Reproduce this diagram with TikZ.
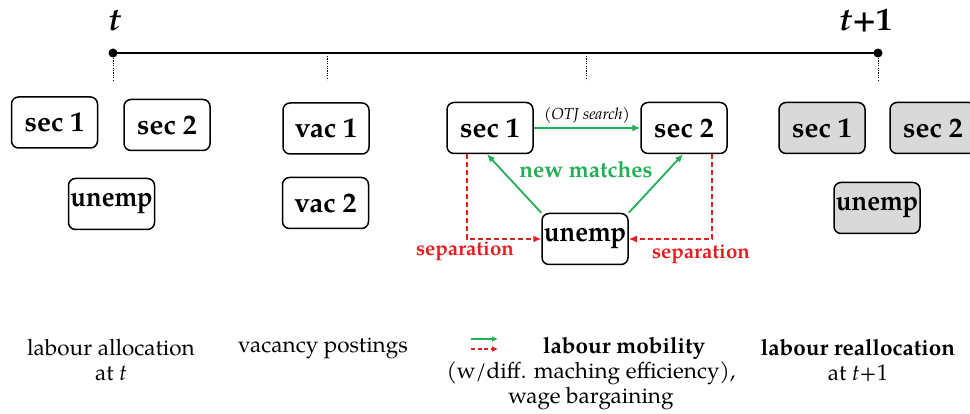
\documentclass[tikz,border=0pt]{standalone}
\usepackage{fontspec}
\usepackage{graphicx}
\setmainfont{TeX Gyre Pagella}
\usetikzlibrary{arrows.meta,calc}
\definecolor{mgreen}{RGB}{35,175,85}
\definecolor{mred}{RGB}{228,30,30}
\definecolor{mgray}{RGB}{217,217,217}
\newcommand{\unempt}{\scalebox{0.92}[1]{unemp}}
\tikzset{
  box/.style={draw=black, line width=1.5pt, rounded corners=7pt, minimum width=86pt, minimum height=51pt, inner sep=0pt, font=\fontsize{28}{29}\selectfont\bfseries},
  gbox/.style={box, fill=mgray},
  garr/.style={draw=mgreen, line width=1.8pt, -{Latex[length=8pt,width=7pt]}},
  rarr/.style={draw=mred, line width=1.5pt, dash pattern=on 5pt off 3pt, -{Latex[length=8pt,width=7pt]}},
  tick/.style={line width=1pt, dash pattern=on 1.2pt off 1.2pt},
  body/.style={align=center, font=\fontsize{22.5}{25}\selectfont},
}
\begin{document}
\begin{tikzpicture}[x=1pt,y=-1pt]
\useasboundingbox (0,0) rectangle (970,414);
% timeline
\coordinate (tl) at (113,53);
\coordinate (tr) at (878,53);
\coordinate (m1) at (327,53);
\coordinate (m2) at (586,53);
\draw[line width=1.5pt] (tl) -- (tr);
\fill (tl) circle (4.5pt);
\fill (tr) circle (4.5pt);
\node[font=\fontsize{32}{34}\selectfont\bfseries\itshape] (tlab) at (115,21) {t};
\node[font=\fontsize{32}{34}\selectfont\bfseries] (trlab) at (866,21) {\textit{t}+1};
\draw[tick] ([yshift=-5pt]tl) -- ([yshift=-27pt]tl);
\draw[tick] ([yshift=-3pt]m1) -- ([yshift=-27pt]m1);
\draw[tick] ([yshift=-3pt]m2) -- ([yshift=-27pt]m2);
\draw[tick] ([yshift=-5pt]tr) -- ([yshift=-27pt]tr);
% left group
\node[box] (lsec1) at (54.5,122.5) {sec 1};
\node[box] (lsec2) at (167,125) {sec 2};
\node[box] (lunemp) at (111.5,204) {\unempt};
% vacancies
\node[box] (vac1) at (326,128.5) {vac 1};
\node[box] (vac2) at (325.5,203) {vac 2};
% middle group
\node[box] (msec1) at (490,128) {sec 1};
\node[box] (msec2) at (684,128) {sec 2};
\node[box] (munemp) at (585,239) {\unempt};
\draw[garr] (msec1.east) -- node[above=0pt, font=\fontsize{16}{18}\selectfont\itshape, text=black] {(OTJ search)} (msec2.west);
\draw[garr] (munemp.north west) -- ([xshift=-3pt]msec1.south);
\draw[garr] (munemp.north east) -- ([xshift=-1pt]msec2.south);
\node[font=\fontsize{22.5}{24}\selectfont\bfseries, text=mgreen] (nm) at (586,170) {new matches};
\draw[rarr] ([xshift=-23pt]msec1.south) |- (munemp.west);
\draw[rarr] ([xshift=28pt]msec2.south) |- (munemp.east);
\node[font=\fontsize{20.5}{22}\selectfont\bfseries, text=mred] (sepl) at (465,251) {separation};
\node[font=\fontsize{20.5}{22}\selectfont\bfseries, text=mred] (sepr) at (701,254) {separation};
% right group
\node[gbox] (rsec1) at (822,128) {sec 1};
\node[gbox] (rsec2) at (933,128) {sec 2};
\node[gbox] (runemp) at (877,208) {\unempt};
% bottom captions
\node[body] (c1) at (111,360) {labour allocation\\at \textit{t}};
\node[body] (c2) at (323,348) {vacancy postings};
\node[body] (c3) at (591,373) {\phantom{(}\hspace{56pt}\textbf{labour mobility}\\(w/diff. maching efficiency),\\wage bargaining};
\node[body] (c4) at (858,360) {\textbf{labour reallocation}\\at \textit{t}+1};
\coordinate (lg1) at (471,339);
\coordinate (lg2) at (498,339);
\coordinate (lg3) at (471,349);
\coordinate (lg4) at (498,349);
\draw[garr, line width=1.5pt, -{Latex[length=6pt,width=6pt]}] (lg1) -- (lg2);
\draw[rarr, line width=1.5pt, dash pattern=on 4pt off 2.5pt, -{Latex[length=6pt,width=6pt]}] (lg3) -- (lg4);
\end{tikzpicture}
\end{document}
